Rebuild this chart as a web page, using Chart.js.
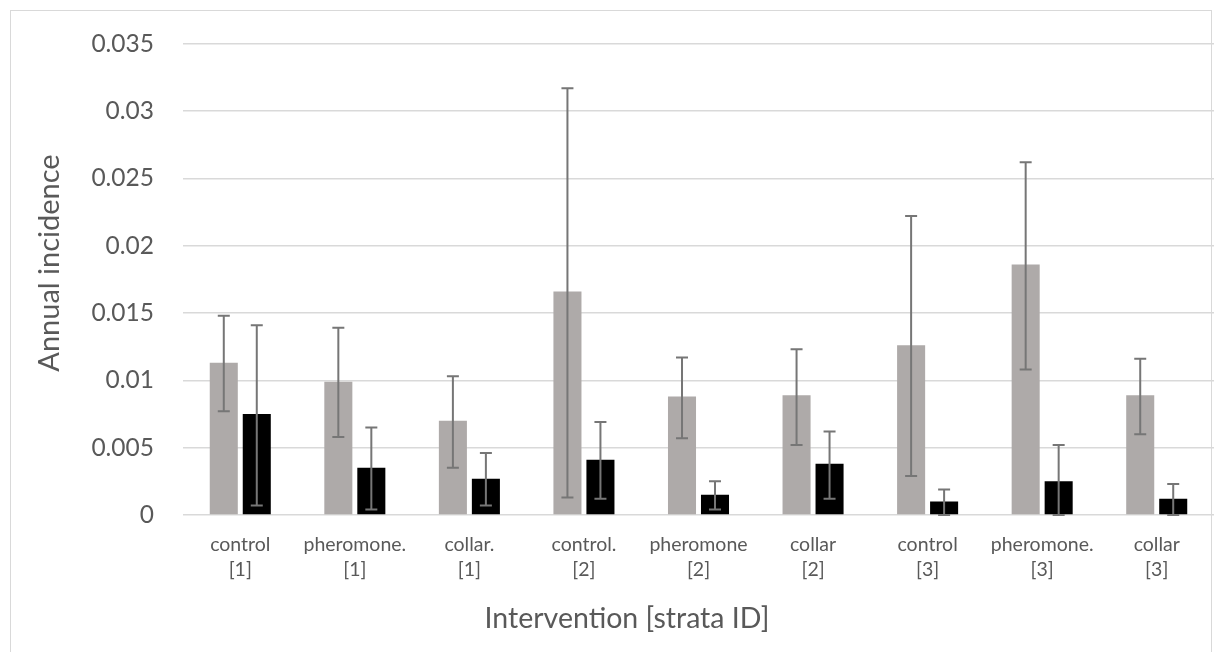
<!DOCTYPE html>
<html>
<head>
<meta charset="utf-8">
<title>Annual incidence</title>
<script src="https://cdn.jsdelivr.net/npm/chart.js@4.4.0/dist/chart.umd.min.js"></script>
<style>
  html, body { margin: 0; padding: 0; background: #ffffff; }
  #marco {
    position: absolute; left: 10px; top: 10px;
    width: 1202px; height: 700px;
    border: 1px solid #d9d9d9; box-sizing: border-box;
  }
  #contenedor { position: absolute; left: 0; top: 0; width: 1217px; height: 652px; }
</style>
</head>
<body>
<div id="marco"></div>
<div id="contenedor"><canvas id="barChart"></canvas></div>
<script>
// categorias del eje x (dos lineas cada una)
const categorias = [
    ['control', '[1]'], ['pheromone.', '[1]'], ['collar.', '[1]'],
    ['control.', '[2]'], ['pheromone', '[2]'], ['collar', '[2]'],
    ['control', '[3]'], ['pheromone.', '[3]'], ['collar', '[3]']
];

// serie gris
const serieGris     = [0.0113, 0.0099, 0.0070, 0.0166, 0.0088, 0.0089, 0.0126, 0.0186, 0.0089];
const serieGrisMin  = [0.0077, 0.0058, 0.0035, 0.0013, 0.0057, 0.0052, 0.0029, 0.0108, 0.0060];
const serieGrisMax  = [0.0148, 0.0139, 0.0103, 0.0317, 0.0117, 0.0123, 0.0222, 0.0262, 0.0116];

// serie negra
const serieNegra    = [0.0075, 0.0035, 0.0027, 0.0041, 0.0015, 0.0038, 0.0010, 0.0025, 0.0012];
const serieNegraMin = [0.0007, 0.0004, 0.0007, 0.0012, 0.0004, 0.0012, 0.0000, 0.0000, 0.0000];
const serieNegraMax = [0.0141, 0.0065, 0.0046, 0.0069, 0.0025, 0.0062, 0.0019, 0.0052, 0.0023];

// etiquetas del eje y
const etiquetasY = ['0', '0.005', '0.01', '0.015', '0.02', '0.025', '0.03', '0.035'];

const tituloY = 'Annual incidence';
const tituloX = 'Intervention [strata ID]';

const colorTexto = '#595959';
const fuente = 'Lato, "Open Sans", sans-serif';

// plugin para dibujar las barras de error
const barrasError = {
    id: 'barrasError',
    afterDatasetsDraw(chart) {
        const ctx = chart.ctx;
        const y = chart.scales.y;
        chart.data.datasets.forEach((ds, i) => {
            const meta = chart.getDatasetMeta(i);
            meta.data.forEach((barra, j) => {
                const yMin = y.getPixelForValue(ds.errMin[j]);
                const yMax = y.getPixelForValue(ds.errMax[j]);
                const x = barra.x;
                ctx.save();
                ctx.strokeStyle = '#767676';
                ctx.lineWidth = 2;
                ctx.beginPath();
                ctx.moveTo(x, yMin);
                ctx.lineTo(x, yMax);
                ctx.moveTo(x - 6, yMax);
                ctx.lineTo(x + 6, yMax);
                ctx.moveTo(x - 6, yMin);
                ctx.lineTo(x + 6, yMin);
                ctx.stroke();
                ctx.restore();
            });
        });
    }
};

// plugin para los titulos de los ejes (posicion como en Excel)
const titulosEjes = {
    id: 'titulosEjes',
    afterDraw(chart) {
        const ctx = chart.ctx;
        ctx.save();
        ctx.fillStyle = colorTexto;
        ctx.font = '28.5px ' + fuente;
        ctx.textAlign = 'center';
        ctx.textBaseline = 'alphabetic';
        ctx.fillText(tituloX, 627, 628);

        ctx.font = '29px ' + fuente;
        ctx.translate(59, 263);
        ctx.rotate(-Math.PI / 2);
        ctx.fillText(tituloY, 0, 0);
        ctx.restore();
    }
};

function Crear() {
    const ctx = document.getElementById('barChart').getContext('2d');

    window.barChartInstance = new Chart(ctx, {
        type: 'bar',
        data: {
            labels: categorias,
            datasets: [{
                label: 'gris',
                data: serieGris,
                errMin: serieGrisMin,
                errMax: serieGrisMax,
                backgroundColor: '#aeaaa9',
                borderWidth: 0
            }, {
                label: 'negra',
                data: serieNegra,
                errMin: serieNegraMin,
                errMax: serieNegraMax,
                backgroundColor: '#000000',
                borderWidth: 0
            }]
        },
        options: {
            responsive: true,
            maintainAspectRatio: false,
            animation: false,
            categoryPercentage: 0.576,
            barPercentage: 0.85,
            layout: { padding: { top: 40, right: 3, left: 0, bottom: 0 } },
            scales: {
                x: {
                    afterFit: (scale) => { scale.height = 137; },
                    grid: { display: false, drawTicks: false },
                    border: { display: false },
                    ticks: {
                        color: colorTexto,
                        font: { family: fuente, size: 19.5, lineHeight: 1.3 },
                        padding: 17,
                        maxRotation: 0,
                        autoSkip: false
                    }
                },
                y: {
                    min: 0,
                    max: 0.035,
                    afterFit: (scale) => { scale.width = 183; },
                    grid: { color: '#d9d9d9', lineWidth: 1.5, drawTicks: false },
                    border: { display: false },
                    ticks: {
                        stepSize: 0.005,
                        color: colorTexto,
                        font: { family: fuente, size: 24.5 },
                        padding: 29,
                        callback: (valor, indice) => etiquetasY[indice]
                    }
                }
            },
            plugins: {
                legend: { display: false },
                tooltip: { enabled: false }
            }
        },
        plugins: [barrasError, titulosEjes]
    });
}

Crear();
</script>
</body>
</html>
